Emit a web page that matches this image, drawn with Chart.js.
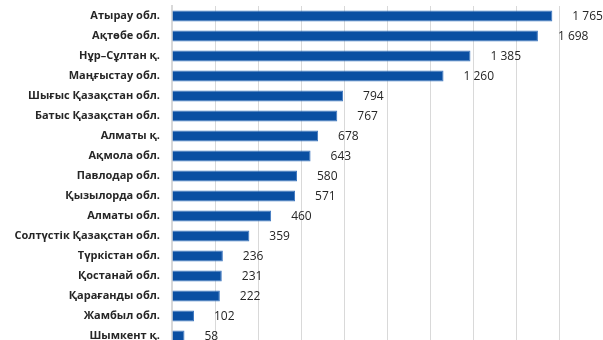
<!DOCTYPE html>
<html>
<head>
<meta charset="utf-8">
<script src="https://cdn.jsdelivr.net/npm/chart.js@4/dist/chart.umd.min.js"></script>
<style>
  html, body { margin: 0; padding: 0; background: #fff; overflow: hidden; }
  #wrap { position: relative; width: 603px; height: 340px; overflow: hidden; }
  #chart { position: absolute; left: 0; top: 0; }
</style>
</head>
<body>
<div id="wrap"><canvas id="chart" width="612" height="346"></canvas></div>
<script>
// Regions (top to bottom) and their values
const regions = [
  'Атырау обл.', 'Ақтөбе обл.', 'Нұр–Сұлтан қ.', 'Маңғыстау обл.',
  'Шығыс Қазақстан обл.', 'Батыс Қазақстан обл.', 'Алматы қ.', 'Ақмола обл.',
  'Павлодар обл.', 'Қызылорда обл.', 'Алматы обл.', 'Солтүстік Қазақстан обл.',
  'Түркістан обл.', 'Қостанай обл.', 'Қарағанды обл.', 'Жамбыл обл.', 'Шымкент қ.',
];
const values = [1765, 1698, 1385, 1260, 794, 767, 678, 643, 580, 571, 460, 359, 236, 231, 222, 102, 58];

const xTicks = { min: 0, max: 2000, step: 200 };

const fmtNum = v => String(v).replace(/\B(?=(\d{3})+(?!\d))/g, ' ');

const valueLabels = {
  id: 'value-labels',
  afterDatasetsDraw(chart) {
    const ctx = chart.ctx;
    const meta = chart.getDatasetMeta(0);
    ctx.save();
    ctx.font = '12px "Open Sans", "Noto Sans", sans-serif';
    ctx.fillStyle = '#262626';
    ctx.textAlign = 'left';
    ctx.textBaseline = 'middle';
    meta.data.forEach((bar, i) => {
      ctx.fillText(fmtNum(values[i]), bar.x + 20, bar.y + 1);
    });
    ctx.restore();
  },
};

new Chart(document.getElementById('chart'), {
  type: 'bar',
  data: {
    labels: regions,
    datasets: [{
      data: values,
      backgroundColor: '#0a4fa2',
      borderColor: '#3f78c0',
      borderWidth: { top: 1, bottom: 1, right: 1, left: 0 },
      barPercentage: 0.54,
      categoryPercentage: 1,
    }],
  },
  options: {
    indexAxis: 'y',
    responsive: false,
    animation: false,
    layout: { padding: { top: 6, right: 9, bottom: 0, left: 0 } },
    scales: {
      x: {
        min: xTicks.min, max: xTicks.max,
        afterFit(scale) { scale.height = 0; },
        ticks: { display: false, stepSize: xTicks.step },
        grid: { color: '#d9d9d9', lineWidth: 1, drawTicks: false },
        border: { display: false },
      },
      y: {
        afterFit(scale) { scale.width = 172; scale.paddingTop = 0; scale.paddingBottom = 0; },
        ticks: {
          color: '#262626', padding: 12, autoSkip: false,
          font: { family: '"Open Sans", "Noto Sans", sans-serif', size: 11, weight: 'bold' },
        },
        grid: { display: false, drawTicks: false },
        border: { display: true, color: '#d9d9d9', width: 2 },
      },
    },
    plugins: { legend: { display: false }, tooltip: { enabled: false } },
  },
  plugins: [valueLabels],
});
</script>
</body>
</html>
